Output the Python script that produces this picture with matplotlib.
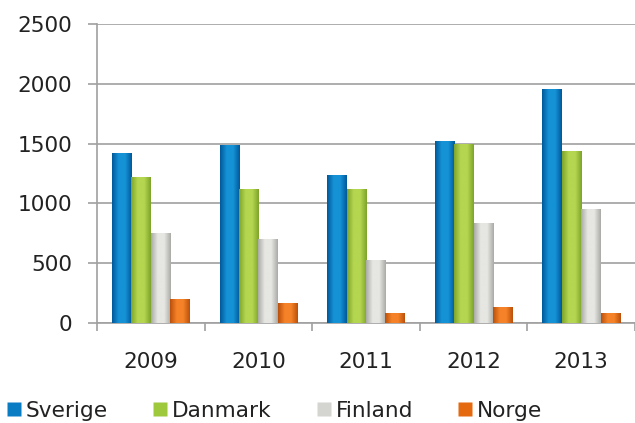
import matplotlib
matplotlib.use("Agg")
import matplotlib.pyplot as plt
import numpy as np
from matplotlib.colors import LinearSegmentedColormap
from matplotlib.lines import Line2D

years = ["2009", "2010", "2011", "2012", "2013"]
series_names = ["Sverige", "Danmark", "Finland", "Norge"]
sverige = [1420, 1490, 1240, 1520, 1960]
danmark = [1220, 1120, 1120, 1500, 1440]
finland = [750, 700, 530, 840, 950]
norge = [200, 170, 80, 130, 80]
yticks = [0, 500, 1000, 1500, 2000, 2500]

values = [sverige, danmark, finland, norge]
# (edge/dark, center/light)
shades = [("#00599a", "#1592d6"), ("#7ea42a", "#b4d650"),
          ("#aaaaa6", "#e6e6e2"), ("#b9500a", "#f58228")]
legend_colors = ["#0a7cc4", "#9ec93c", "#d4d4d0", "#e5690f"]

FS = 15.6
fig = plt.figure(figsize=(6.35, 4.23), dpi=100)
ax = fig.add_axes([97/635, 1-323/423, 1-97/635, (323-24)/423])

x = np.arange(len(years))
w = 0.18
grid_c = "#a0a0a0"
for k, (vals, (dark, light)) in enumerate(zip(values, shades)):
    bars = ax.bar(x + (k - 1.5) * w, vals, width=w, color=light,
                  edgecolor="none", zorder=3)
    cmap = LinearSegmentedColormap.from_list("c%d" % k, [dark, light, light, dark])
    grad = np.linspace(0, 1, 64).reshape(1, -1)
    for b in bars:
        x0, y0 = b.get_x(), b.get_y()
        bw, bh = b.get_width(), b.get_height()
        im = ax.imshow(grad, cmap=cmap, aspect="auto",
                       extent=(x0, x0 + bw, y0, y0 + bh), zorder=4,
                       interpolation="bilinear")
        im.set_clip_path(b)

ax.set_xlim(-0.5, len(years) - 0.5)
ax.set_ylim(0, 2500)
ax.set_yticks(yticks)
ax.set_yticklabels([str(v) for v in yticks])
ax.yaxis.grid(True, color=grid_c, linewidth=1.2, zorder=0)
ax.set_axisbelow(True)

ax.set_xticks(x)
ax.set_xticklabels(years)
ax.set_xticks(np.arange(-0.5, len(years)), minor=True)
ax.tick_params(axis="x", which="major", length=0, pad=21, labelsize=FS,
               labelcolor="#222222")
ax.tick_params(axis="x", which="minor", length=6, width=1.2, color=grid_c,
               direction="out")
ax.tick_params(axis="y", length=6.5, width=1.2, color=grid_c, pad=11.5,
               labelsize=FS, labelcolor="#222222", direction="out")

for s in ["top", "right"]:
    ax.spines[s].set_visible(False)
for s in ["left", "bottom"]:
    ax.spines[s].set_color(grid_c)
    ax.spines[s].set_linewidth(1.2)

handles = [Line2D([], [], linestyle="none", marker="s", markersize=10,
                  markerfacecolor=c, markeredgecolor="none") for c in legend_colors]
fig.legend(handles, series_names, loc="center left",
           bbox_to_anchor=(7/635, 1-411/423), ncol=4, frameon=False,
           fontsize=FS, handlelength=0.65, handletextpad=0.23,
           columnspacing=2.07, borderpad=0, borderaxespad=0,
           labelcolor="#222222")

fig.savefig("out.png", dpi=100)
